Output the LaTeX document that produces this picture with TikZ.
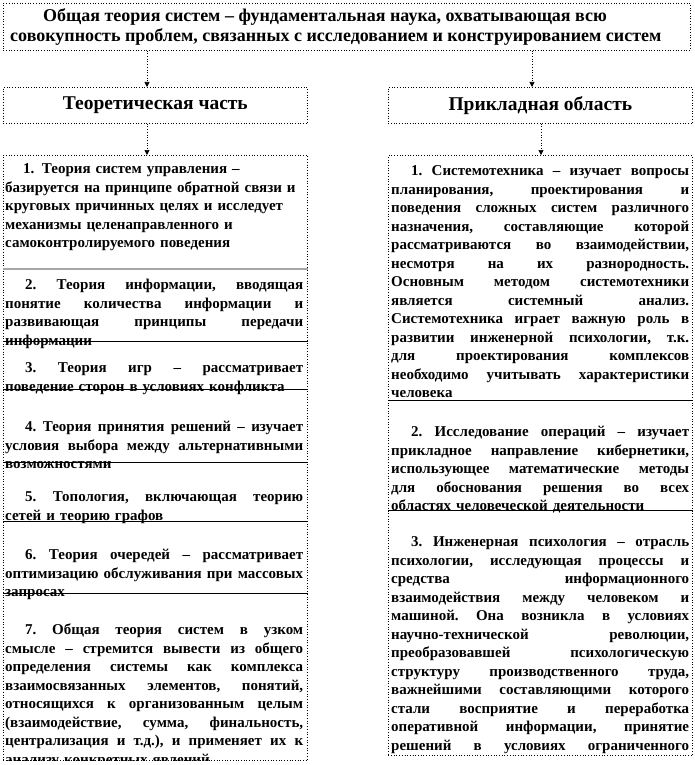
\documentclass[tikz,border=0pt]{standalone}
\usepackage{fontspec}
\setmainfont{Liberation Serif}
\usetikzlibrary{arrows.meta}
\newlength\colw \setlength\colw{298pt}
\newcommand\jl[1]{\leavevmode\hbox to\colw{\frenchspacing\spaceskip=0.25em plus 1fil\relax #1}}
\newcommand\ind{\hspace*{20pt}}
\newcommand\bodyfnt{\fontsize{15}{18.5}\selectfont\bfseries}
\newcommand\headfnt{\fontsize{18}{20}\selectfont\bfseries}
\newcommand\capfnt{\fontsize{19.5}{22}\selectfont\bfseries}
\begin{document}
\begin{tikzpicture}[x=1pt,y=-1pt,
  frame/.style={draw, dotted, line width=0.7pt, inner sep=0pt, anchor=north west},
  sect/.style={inner sep=0pt, anchor=north west, text width=\colw, align=left, font=\bodyfnt},
  conn/.style={dotted, line width=0.7pt, -{Triangle[width=5pt,length=5pt]}},
  sep/.style={line width=0.7pt},
  graysep/.style={line width=2pt, gray!70},
]
\useasboundingbox (0,0) rectangle (694,765);

% top box
\node[frame, minimum width=687, minimum height=47] (top) at (3,3) {};
\node[inner sep=0pt, anchor=north west, align=left, font=\headfnt] (toptxt) at (10,7)
 {\strut\hspace*{33pt}Общая теория систем – фундаментальная наука, охватывающая всю\\
  совокупность проблем, связанных с исследованием и конструированием систем};

% headers
\node[frame, minimum width=304, minimum height=36, font=\capfnt] (lhead) at (3,87) {Теоретическая часть};
\node[frame, minimum width=304, minimum height=36, font=\capfnt] (rhead) at (388,87) {Прикладная область};

% content frames
\node[frame, minimum width=304, minimum height=605] (lbox) at (3,155) {};
\node[frame, minimum width=304, minimum height=600] (rbox) at (388,155) {};

% connectors
\draw[conn] (top.south -| 147,0) -- (lhead.north -| 147,0);
\draw[conn] (top.south -| 532,0) -- (rhead.north -| 532,0);
\draw[conn] (lhead.south -| 147,0) -- (lbox.north -| 147,0);
\draw[conn] (rhead.south -| 541,0) -- (rbox.north -| 541,0);

% left sections
\node[sect] (l1) at (5,160.5) {\strut\hspace*{18pt}1. Теория систем управления –\\
 базируется на принципе обратной связи и\\
 круговых причинных целях и исследует\\
 механизмы целенаправленного и\\
 самоконтролируемого поведения};
\draw[graysep] (lbox.west |- 0,269) -- (lbox.east |- 0,269);

\node[sect] (l2) at (5,276.5) {\strut\jl{\ind 2. Теория информации, вводящая}\\
 \jl{понятие количества информации и}\\
 \jl{развивающая принципы передачи}\\
 информации};
\draw[sep] (lbox.west |- 0,341) -- (lbox.east |- 0,341);

\node[sect] (l3) at (5,359.5) {\strut\jl{\ind 3. Теория игр – рассматривает}\\
 поведение сторон в условиях конфликта};
\draw[sep] (lbox.west |- 0,389) -- (lbox.east |- 0,389);

\node[sect] (l4) at (5,418.5) {\strut\jl{\ind 4. Теория принятия решений – изучает}\\
 \jl{условия выбора между альтернативными}\\
 возможностями};
\draw[sep] (lbox.west |- 0,462) -- (lbox.east |- 0,462);

\node[sect] (l5) at (5,488.5) {\strut\jl{\ind 5. Топология, включающая теорию}\\
 сетей и теорию графов};
\draw[sep] (lbox.west |- 0,521) -- (lbox.east |- 0,521);

\node[sect] (l6) at (5,546.5) {\strut\jl{\ind 6. Теория очередей – рассматривает}\\
 \jl{оптимизацию обслуживания при массовых}\\
 запросах};
\draw[sep] (lbox.west |- 0,593) -- (lbox.east |- 0,593);

\begin{scope}
\clip (lbox.north west) rectangle (lbox.south east);
\node[sect] (l7) at (5,621.5) {\strut\jl{\ind 7. Общая теория систем в узком}\\
 \jl{смысле – стремится вывести из общего}\\
 \jl{определения системы как комплекса}\\
 \jl{взаимосвязанных элементов, понятий,}\\
 \jl{относящихся к организованным целым}\\
 \jl{(взаимодействие, сумма, финальность,}\\
 \jl{централизация и т.д.), и применяет их к}\\
 анализу конкретных явлений};
\end{scope}

% right sections
\node[sect] (r1) at (391,162.5) {\strut\jl{\ind 1. Системотехника – изучает вопросы}\\
 \jl{планирования, проектирования и}\\
 \jl{поведения сложных систем различного}\\
 \jl{назначения, составляющие которой}\\
 \jl{рассматриваются во взаимодействии,}\\
 \jl{несмотря на их разнородность.}\\
 \jl{Основным методом системотехники}\\
 \jl{является системный анализ.}\\
 \jl{Системотехника играет важную роль в}\\
 \jl{развитии инженерной психологии, т.к.}\\
 \jl{для проектирования комплексов}\\
 \jl{необходимо учитывать характеристики}\\
 человека};
\draw[sep] (rbox.west |- 0,400) -- (rbox.east |- 0,400);

\node[sect] (r2) at (391,423.5) {\strut\jl{\ind 2. Исследование операций – изучает}\\
 \jl{прикладное направление кибернетики,}\\
 \jl{использующее математические методы}\\
 \jl{для обоснования решения во всех}\\
 областях человеческой деятельности};
\draw[sep] (rbox.west |- 0,510) -- (rbox.east |- 0,510);

\node[sect] (r3) at (391,533.5) {\strut\jl{\ind 3. Инженерная психология – отрасль}\\
 \jl{психологии, исследующая процессы и}\\
 \jl{средства информационного}\\
 \jl{взаимодействия между человеком и}\\
 \jl{машиной. Она возникла в условиях}\\
 \jl{научно-технической революции,}\\
 \jl{преобразовавшей психологическую}\\
 \jl{структуру производственного труда,}\\
 \jl{важнейшими составляющими которого}\\
 \jl{стали восприятие и переработка}\\
 \jl{оперативной информации, принятие}\\
 \jl{решений в условиях ограниченного}};
\end{tikzpicture}
\end{document}
